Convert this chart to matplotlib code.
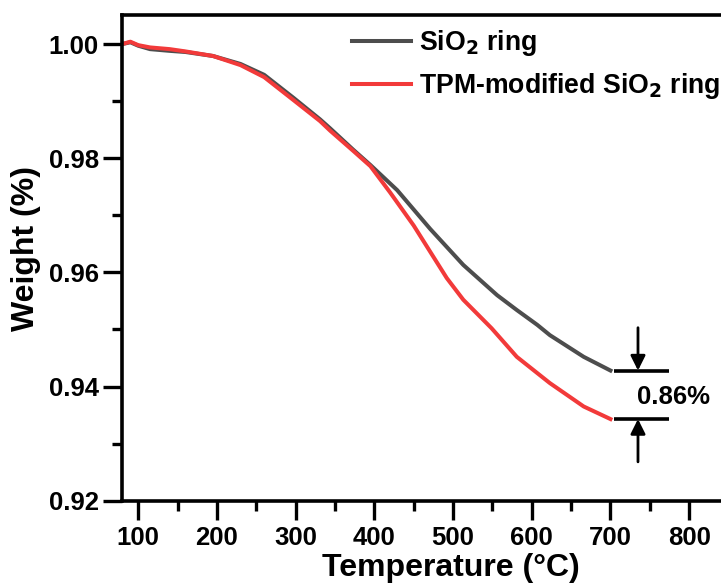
import matplotlib
matplotlib.use("Agg")
import matplotlib.pyplot as plt
from matplotlib.patches import FancyArrowPatch

plt.rcParams['font.family'] = ['Liberation Sans', 'DejaVu Sans']
plt.rcParams['font.weight'] = 'bold'
plt.rcParams['mathtext.default'] = 'bf'

# SiO2 ring
temp_sio2 = [80, 90, 100, 115, 140, 160, 195, 230, 260, 297, 331, 344, 373, 395,
             429, 471, 513, 556, 581, 607, 623, 666, 700]
weight_sio2 = [1.0000, 1.0003, 0.9997, 0.9991, 0.9988, 0.9986, 0.9979, 0.9965,
               0.9946, 0.9906, 0.9868, 0.9852, 0.9815, 0.9788, 0.9744, 0.9676,
               0.9613, 0.9560, 0.9534, 0.9508, 0.9490, 0.9452, 0.9428]

# TPM-modified SiO2 ring
temp_tpm = [80, 90, 100, 115, 140, 160, 195, 230, 260, 297, 331, 344, 373, 395,
            420, 450, 471, 492, 513, 549, 581, 623, 666, 700]
weight_tpm = [1.0000, 1.0004, 0.9998, 0.9994, 0.9991, 0.9987, 0.9979, 0.9963,
              0.9942, 0.9902, 0.9865, 0.9848, 0.9813, 0.9786, 0.9740, 0.9682,
              0.9636, 0.9590, 0.9552, 0.9502, 0.9452, 0.9406, 0.9365, 0.9343]

labels = ['SiO$_2$ ring', 'TPM-modified SiO$_2$ ring']
diff_label = '0.86%'
xticks = [100, 200, 300, 400, 500, 600, 700, 800]
yticks = [0.92, 0.94, 0.96, 0.98, 1.00]

fig = plt.figure(figsize=(7.21, 5.86), dpi=100)
ax = fig.add_axes([0.1699, 0.1456, 0.8405, 0.8288])

ax.plot(temp_sio2, weight_sio2, color='#4d4d4d', lw=2.9, label=labels[0])
ax.plot(temp_tpm, weight_tpm, color='#f23a3a', lw=2.9, label=labels[1])

ax.set_xlim(80, 850)
ax.set_ylim(0.92, 1.00508)
ax.set_xticks(xticks)
ax.set_xticks([150, 250, 350, 450, 550, 650, 750], minor=True)
ax.set_yticks(yticks)
ax.set_yticks([0.93, 0.95, 0.97, 0.99], minor=True)
ax.set_yticklabels([f'{v:.2f}' for v in yticks])

for s in ax.spines.values():
    s.set_linewidth(2.6)
ax.tick_params(which='major', direction='out', length=14, width=2.4,
               labelsize=18.5, pad=3)
ax.tick_params(which='minor', direction='out', length=7, width=2.4)
ax.tick_params(axis='x', which='major', pad=4)

ax.set_xlabel('Temperature (°C)', fontsize=23, fontweight='bold')
ax.set_ylabel('Weight (%)', fontsize=23, fontweight='bold')
ax.xaxis.set_label_coords(0.542, -0.1077)
ax.yaxis.set_label_coords(-0.1345, 0.520)

# annotation of the final weight difference
x_bar0, x_bar1, x_arrow = 705, 775, 735
y_hi = weight_sio2[-1]
y_lo = weight_tpm[-1]
ax.plot([x_bar0, x_bar1], [y_hi, y_hi], color='black', lw=2.6, solid_capstyle='butt')
ax.plot([x_bar0, x_bar1], [y_lo, y_lo], color='black', lw=2.6, solid_capstyle='butt')
ax.add_patch(FancyArrowPatch((x_arrow, 0.9503), (x_arrow, y_hi), arrowstyle='-|>',
                             mutation_scale=22, color='black', lw=2,
                             shrinkA=0, shrinkB=0))
ax.add_patch(FancyArrowPatch((x_arrow, 0.9268), (x_arrow, y_lo), arrowstyle='-|>',
                             mutation_scale=22, color='black', lw=2,
                             shrinkA=0, shrinkB=0))
ax.text(780, 0.9382, diff_label, fontsize=18.5, fontweight='bold',
        ha='center', va='center')

leg = ax.legend(loc='upper left', bbox_to_anchor=(352 / 721, 1 - 28 / 586),
                bbox_transform=fig.transFigure, frameon=False, fontsize=19.2,
                handlelength=2.2, handletextpad=0.3, labelspacing=0.5,
                borderpad=0, borderaxespad=0)

fig.savefig('out.png', dpi=100)
